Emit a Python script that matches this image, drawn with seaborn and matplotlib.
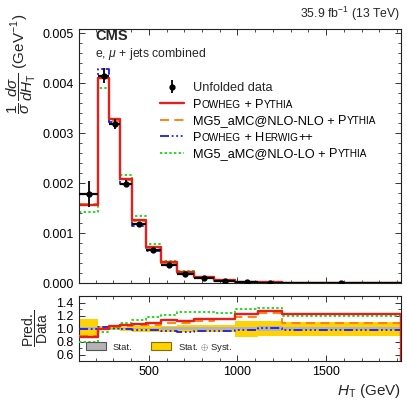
import numpy as np
import matplotlib
matplotlib.use("Agg")
import matplotlib.pyplot as plt
import seaborn as sns
from matplotlib.ticker import MultipleLocator, FormatStrFormatter
from matplotlib.patches import Patch
from matplotlib.lines import Line2D
from matplotlib.offsetbox import TextArea, HPacker

# ---------------- data ----------------
bin_edges = [105, 216, 276, 338, 404, 483, 569, 658, 755, 868, 986, 1116, 1251, 1922]
data_values = [0.00179, 0.00415, 0.00318, 0.00199, 0.00118, 0.00066, 0.00037,
               0.00019, 0.000100, 0.000045, 0.000020, 0.0000100, 0.0000020]
data_errors = [0.00026, 0.00015, 0.00010, 0.00007, 0.00005, 0.00003, 0.000018,
               0.00001, 0.000005, 0.000003, 0.000002, 0.000001, 0.0000002]
powheg_pythia = [0.00156, 0.00411, 0.00328, 0.00209, 0.00126, 0.00072, 0.000418,
                 0.000211, 0.000114, 0.0000518, 0.0000244, 0.0000127, 0.00000246]
mg5_nlo_pythia = [0.001575, 0.00411, 0.003244, 0.00207, 0.001239, 0.00070, 0.000403,
                  0.000205, 0.000111, 0.0000513, 0.0000234, 0.0000124, 0.00000218]
powheg_herwig = [0.00179, 0.004275, 0.003212, 0.00199, 0.001145, 0.00064, 0.000355,
                 0.0001805, 0.000096, 0.0000432, 0.0000196, 0.0000101, 0.00000196]
mg5_lo_pythia = [0.001414, 0.003901, 0.00318, 0.002169, 0.001333, 0.000779, 0.000448,
                 0.000239, 0.000125, 0.0000558, 0.000026, 0.0000132, 0.0000024]
stat_rel = [0.03, 0.012, 0.012, 0.012, 0.015, 0.015, 0.02, 0.02, 0.02, 0.03, 0.03, 0.04, 0.03]
total_low = [0.86, 0.97, 0.97, 0.96, 0.95, 0.95, 0.94, 0.94, 0.94, 0.95, 0.87, 0.88, 0.89]
total_high = [1.15, 1.04, 1.03, 1.03, 1.04, 1.04, 1.04, 1.05, 1.05, 1.06, 1.12, 1.12, 1.10]

model_labels = [
    [("P", False), ("OWHEG", True), (" + ", False), ("P", False), ("YTHIA", True)],
    [("MG5_aMC@NLO-NLO + ", False), ("P", False), ("YTHIA", True)],
    [("P", False), ("OWHEG", True), (" + ", False), ("H", False), ("ERWIG", True), ("++", False)],
    [("MG5_aMC@NLO-LO + ", False), ("P", False), ("YTHIA", True)],
]
data_label = "Unfolded data"
ratio_legend_labels = ["Stat.", r"Stat. $\oplus$ Syst."]

# ---------------- style ----------------
sns.set_theme(style="ticks")
plt.rcParams["font.family"] = ["Liberation Sans", "DejaVu Sans"]
plt.rcParams.update({
    "mathtext.fontset": "custom",
    "mathtext.rm": "Liberation Sans",
    "mathtext.it": "Liberation Sans:italic",
    "mathtext.bf": "Liberation Sans:bold",
    "xtick.direction": "in", "ytick.direction": "in",
    "xtick.top": True, "ytick.right": True,
    "xtick.major.size": 4.5, "ytick.major.size": 4.5,
    "xtick.minor.size": 2.5, "ytick.minor.size": 2.5,
    "xtick.major.width": 0.7, "ytick.major.width": 0.7,
    "xtick.minor.width": 0.6, "ytick.minor.width": 0.6,
    "xtick.color": "#333333", "ytick.color": "#333333",
    "xtick.labelcolor": "black", "ytick.labelcolor": "black",
    "axes.linewidth": 0.8, "axes.edgecolor": "#222222",
    "xtick.labelsize": 9, "ytick.labelsize": 9,
})

W = H = 407
fig = plt.figure(figsize=(4.07, 4.07), dpi=100)


def rect(l, t, r, b):
    return [l / W, 1 - b / H, (r - l) / W, (b - t) / H]


ax = fig.add_axes(rect(78.7, 29, 401, 283))
rax = fig.add_axes(rect(78.7, 296, 401, 361), sharex=ax)

edges = np.array(bin_edges, dtype=float)
centers = 0.5 * (edges[:-1] + edges[1:])
x_step = list(edges) + [edges[-1]]


def steps(v):
    v = list(v)
    return v + [v[-1], 0.0]


RED = "#e3201b"
ORANGE = "#ff7a00"
BLUE = "#1c1cf0"
GREEN = "#22dd22"

models = [
    (powheg_pythia, RED, "-", 1.7),
    (mg5_nlo_pythia, ORANGE, (0, (5, 3)), 1.3),
    (powheg_herwig, BLUE, (0, (5, 1.5, 1, 1.5, 1, 1.5, 1, 1.5)), 1.3),
    (mg5_lo_pythia, GREEN, (0, (1.2, 1.2)), 1.4),
]
draw_order = [3, 2, 1, 0]
data_arr = np.array(data_values)

# ---------------- main panel ----------------
handles = [None] * 4
for i in draw_order:
    vals, col, ls, lw = models[i]
    sns.lineplot(x=x_step, y=steps(vals), estimator=None, sort=False,
                 drawstyle="steps-post", color=col, linestyle=ls, linewidth=lw,
                 ax=ax, legend=False)
    handles[i] = Line2D([], [], color=col, linestyle=ls, linewidth=lw)

ax.hlines(data_values, edges[:-1], edges[1:], color="black", lw=1.6, zorder=5)
eb = ax.errorbar(centers, data_values, yerr=data_errors, fmt="o", color="black",
                 ms=3.5, lw=1.3, capsize=0, zorder=6)

ax.set_xlim(edges[0], edges[-1])
ax.set_ylim(0, 0.00508)
ax.xaxis.set_major_locator(MultipleLocator(500))
ax.xaxis.set_minor_locator(MultipleLocator(100))
ax.yaxis.set_major_locator(MultipleLocator(0.001))
ax.yaxis.set_minor_locator(MultipleLocator(0.0002))
ax.yaxis.set_major_formatter(FormatStrFormatter("%.3f"))
ax.tick_params(labelbottom=False)
ax.tick_params(which="both", top=True, right=True)
ax.set_xlabel("")
ax.set_ylabel(r"$\dfrac{1}{\sigma}\,\dfrac{d\sigma}{dH_{\mathrm{T}}}$ (GeV$^{-1}$)",
              fontsize=11, loc="top")
ax.yaxis.set_label_coords(-0.125, 1.06)

fs_leg = 9.2
plain = ["".join(p for p, _ in pieces) for pieces in model_labels]
leg = ax.legend([eb] + handles, [data_label] + plain, loc="upper left",
                bbox_to_anchor=((160 - 78.7) / 322.3, (283 - 82) / 254),
                frameon=False, fontsize=fs_leg, handlelength=1.9,
                handletextpad=0.7, labelspacing=0.36, borderpad=0, borderaxespad=0)

# small caps labels
column = leg._legend_handle_box.get_children()[0]
rows = column.get_children()
for row, pieces in zip(rows[1:], model_labels):
    areas = [TextArea(s, textprops=dict(fontsize=fs_leg * (0.78 if small else 1.0),
                                        color="black"))
             for s, small in pieces]
    packer = HPacker(children=areas, align="baseline", pad=0, sep=0)
    row._children[1] = packer
    packer.set_figure(fig)

ax.text((95 - 78.7) / 322.3, (283 - 40) / 254, "CMS", weight="bold", fontsize=10.5,
        transform=ax.transAxes, va="baseline")
ax.text((95 - 78.7) / 322.3, (283 - 57) / 254, r"e, $\mu$ + jets combined",
        fontsize=8.8, transform=ax.transAxes, va="baseline")
fig.text(400 / W, 1 - 18 / H, r"35.9 fb$^{-1}$ (13 TeV)", ha="right",
         va="baseline", fontsize=8.8)

# ---------------- ratio panel ----------------
YELLOW = "#ffd200"
GRAY = "#b4b4b4"
rax.fill_between(edges, list(total_low) + [total_low[-1]],
                 list(total_high) + [total_high[-1]], step="post",
                 color=YELLOW, lw=0, zorder=1)
stat_lo = [1 - s for s in stat_rel]
stat_hi = [1 + s for s in stat_rel]
rax.fill_between(edges, stat_lo + [stat_lo[-1]], stat_hi + [stat_hi[-1]],
                 step="post", color=GRAY, lw=0, zorder=2)
for i in draw_order:
    vals, col, ls, lw = models[i]
    ratio = np.array(vals) / data_arr
    sns.lineplot(x=x_step, y=steps(ratio), estimator=None, sort=False,
                 drawstyle="steps-post", color=col, linestyle=ls, linewidth=lw,
                 ax=rax, legend=False, zorder=3)

rax.set_ylim(0.5, 1.5)
rax.set_xlim(edges[0], edges[-1])
rax.yaxis.set_major_locator(MultipleLocator(0.2))
rax.yaxis.set_minor_locator(MultipleLocator(0.1))
rax.yaxis.set_major_formatter(FormatStrFormatter("%.1f"))
rax.tick_params(which="both", top=True, right=True)
rax.set_ylabel(r"$\dfrac{\mathrm{Pred.}}{\mathrm{Data}}$", fontsize=10)
rax.yaxis.set_label_coords(-0.09, 0.5)
rax.set_xlabel(r"$H_{\mathrm{T}}$ (GeV)", fontsize=11, loc="right")
rax.xaxis.set_label_coords(1.0, -0.33)

rh = [Patch(facecolor=GRAY, edgecolor="#555555", lw=0.8),
      Patch(facecolor=YELLOW, edgecolor="#8a6d00", lw=0.8)]
rax.legend(rh, ratio_legend_labels, loc="lower left", ncol=2,
           bbox_to_anchor=((86 - 78.7) / 322.3, (361 - 353.5) / 65),
           frameon=False, fontsize=6.8, handlelength=2.1, handleheight=0.9,
           handletextpad=0.7, columnspacing=2.0, borderpad=0, borderaxespad=0)

fig.savefig("out.png", dpi=100)
